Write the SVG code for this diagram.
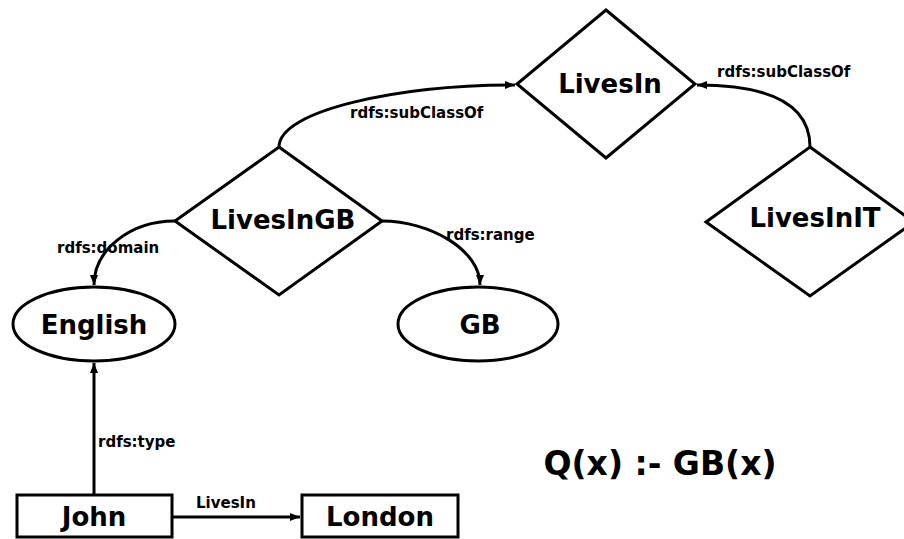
<svg xmlns="http://www.w3.org/2000/svg" width="904" height="539" viewBox="0 0 904 539">
<defs>
<style>
.shape{fill:#fff;stroke:#000;stroke-width:3}
.conn{fill:none;stroke:#000;stroke-width:3}
.node{font-family:"DejaVu Sans",Verdana,sans-serif;font-weight:bold;font-size:26px;fill:#000;text-anchor:middle}
.lbl{font-family:"DejaVu Sans",Verdana,sans-serif;font-weight:bold;font-size:15px;fill:#000}
.q{font-family:"DejaVu Sans",Verdana,sans-serif;font-weight:bold;font-size:33px;fill:#000;text-anchor:middle}
</style>
<marker id="arr" markerUnits="userSpaceOnUse" markerWidth="12" markerHeight="10" refX="10" refY="5" orient="auto">
<path d="M0,1 L10,5 L0,9 Z" fill="#000"/>
</marker>
</defs>
<rect width="904" height="539" fill="#fff"/>
<g id="connectors">
<path class="conn" d="M279,147 C279,110 400,85 515,85" marker-end="url(#arr)"/>
<path class="conn" d="M810,147 C810,105 770,85 697,85" marker-end="url(#arr)"/>
<path class="conn" d="M175,221 C130,221 94,250 94,285" marker-end="url(#arr)"/>
<path class="conn" d="M382,221 C430,221 480,250 480,285" marker-end="url(#arr)"/>
<path class="conn" d="M94,495 L94,363" marker-end="url(#arr)"/>
<path class="conn" d="M172,517 L300,517" marker-end="url(#arr)"/>
<text class="lbl" x="350" y="118">rdfs:subClassOf</text>
<text class="lbl" x="717" y="77">rdfs:subClassOf</text>
<text class="lbl" x="57" y="253">rdfs:domain</text>
<text class="lbl" x="446" y="240">rdfs:range</text>
<text class="lbl" x="98" y="447">rdfs:type</text>
<text class="lbl" x="196" y="508">LivesIn</text>
</g>
<g id="LivesIn">
<polygon class="shape" points="606,10 695,84 606,158 517,84"/>
<text class="node" x="610" y="93">LivesIn</text>
</g>
<g id="LivesInGB">
<polygon class="shape" points="279,147 382,221 279,295 175,221"/>
<text class="node" x="283" y="229">LivesInGB</text>
</g>
<g id="LivesInIT">
<polygon class="shape" points="810,147 914,222 810,296 706,222"/>
<text class="node" x="815" y="227">LivesInIT</text>
</g>
<g id="English">
<ellipse class="shape" cx="94" cy="324" rx="81" ry="37"/>
<text class="node" x="94" y="334">English</text>
</g>
<g id="GB">
<ellipse class="shape" cx="478" cy="324" rx="80" ry="37"/>
<text class="node" x="480" y="334">GB</text>
</g>
<g id="John">
<rect class="shape" x="17" y="495" width="155" height="42"/>
<text class="node" x="94" y="526">John</text>
</g>
<g id="London">
<rect class="shape" x="302" y="495" width="156" height="42"/>
<text class="node" x="380" y="526">London</text>
</g>
<g id="query">
<text class="q" x="660" y="475">Q(x) :- GB(x)</text>
</g>
</svg>
